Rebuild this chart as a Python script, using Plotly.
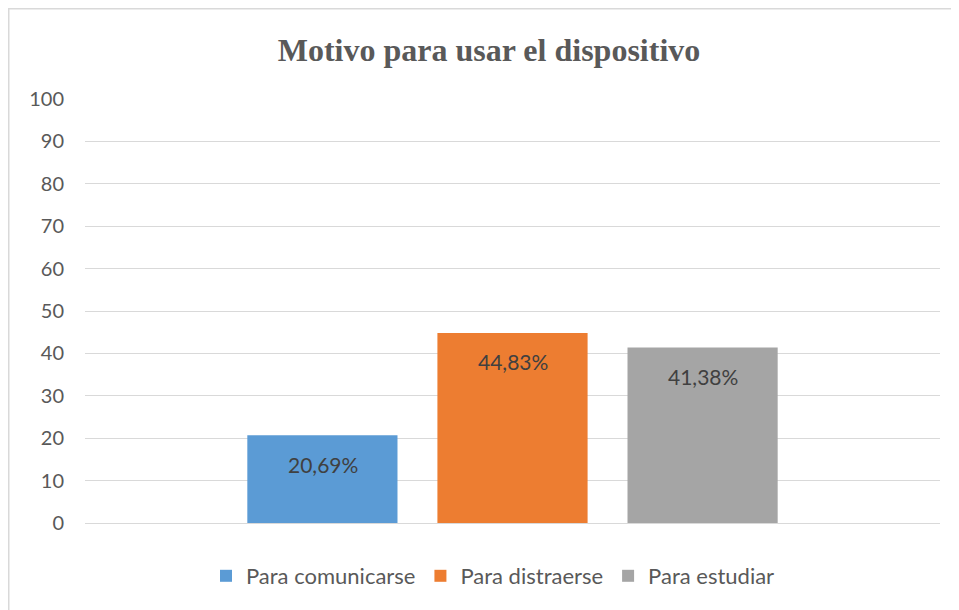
import plotly.graph_objects as go

series = ["Para comunicarse", "Para distraerse", "Para estudiar"]
values = [20.69, 44.83, 41.38]
labels = ["20,69%", "44,83%", "41,38%"]
colors = ["#5B9BD5", "#ED7D31", "#A5A5A5"]
category = [0]
title_text = "Motivo para usar el dispositivo"
yticks = [0, 10, 20, 30, 40, 50, 60, 70, 80, 90, 100]

# the page adds an 8px body margin; figure is sized so it fills the 959x610 window
OFF = 8
W, H = 959 - OFF, 610 - OFF
L, R, T, B = 85 - OFF, 959 - 940, 99 - OFF, 610 - 523
pw, ph = W - L - R, H - T - B

fig = go.Figure()
for name, v, col in zip(series, values, colors):
    fig.add_trace(go.Bar(x=category, y=[v], name=name, marker_color=col,
                         marker_line_width=0))

n = len(series)
for i, (v, lab) in enumerate(zip(values, labels)):
    fig.add_annotation(x=category[0], y=v, text=lab, showarrow=False,
                       xshift=(i - (n - 1) / 2) * 190, yshift=-29,
                       yanchor="middle",
                       font=dict(family="Lato, Open Sans, sans-serif", size=21, color="#404040"))

def px_x(p):
    return (p - L) / pw

def px_y(p):
    return (H - B - p) / ph

fig.add_shape(type="line", xref="paper", yref="paper",
              x0=px_x(0), x1=px_x(W + 10), y0=px_y(0.75), y1=px_y(0.75),
              line=dict(color="#d9d9d9", width=1.5))
fig.add_shape(type="line", xref="paper", yref="paper",
              x0=px_x(0.75), x1=px_x(0.75), y0=px_y(0), y1=px_y(H + 10),
              line=dict(color="#d9d9d9", width=1.5))

fig.update_layout(
    width=W, height=H,
    margin=dict(l=L, r=R, t=T, b=B),
    paper_bgcolor="white", plot_bgcolor="white",
    barmode="group", bargap=0.333, bargroupgap=0.21,
    title=dict(text="<b>" + title_text + "</b>", x=(489 - OFF) / W, xanchor="center",
               y=1 - (50 - OFF) / H, yanchor="middle", yref="container",
               font=dict(family="Liberation Serif, Times New Roman, serif", size=32, color="#595959")),
    showlegend=True,
    legend=dict(orientation="h", x=px_x(493 - OFF), xanchor="center",
                y=px_y(576 - OFF), yanchor="middle",
                font=dict(family="Lato, Open Sans, sans-serif", size=22, color="#595959"),
                itemwidth=30, traceorder="normal"),
    xaxis=dict(range=[-0.5, 0.5], showticklabels=False, showgrid=False, zeroline=False,
               showline=False, fixedrange=True),
    yaxis=dict(range=[0, 100], tickvals=yticks, ticktext=[str(t) for t in yticks],
               showgrid=True, gridcolor="#d9d9d9", gridwidth=1,
               zeroline=True, zerolinecolor="#d9d9d9", zerolinewidth=1,
               showline=False, ticks="", ticklabelstandoff=20,
               tickfont=dict(family="Lato, Open Sans, sans-serif", size=20, color="#595959")),
)

fig.write_html("out.html")
